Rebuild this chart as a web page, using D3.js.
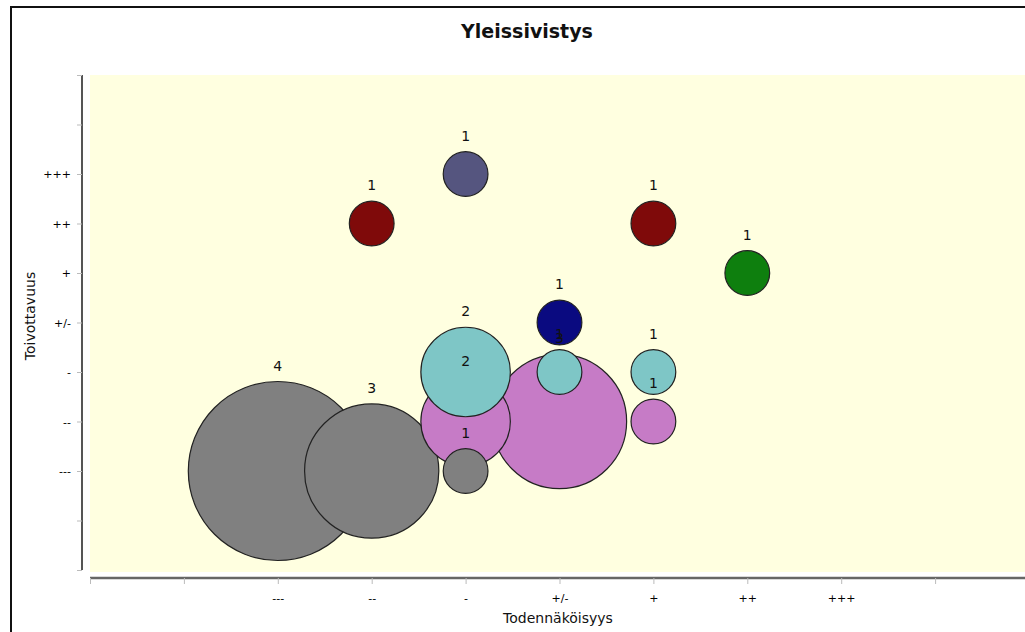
<!DOCTYPE html>
<html>
<head>
<meta charset="utf-8">
<script src="https://cdn.jsdelivr.net/npm/d3@7"></script>
<style>
  body { margin: 0; background: #fff; }
  svg { display: block; font-family: "DejaVu Sans", sans-serif; }
</style>
</head>
<body>
<div id="chart"></div>
<script>
/* bubble chart: Yleissivistys */

// category labels on both axes (index 0..10)
var xLabels = ["", "", "---", "--", "-", "+/-", "+", "++", "+++", "", ""];
var yLabels = ["", "", "---", "--", "-", "+/-", "+", "++", "+++", "", ""];

// series colours
var seriesColors = ["#808080", "#c67bc6", "#7ec6c6", "#0a0a80", "#7f0a0a", "#55557f", "#0e7f0e"];

// one entry per bubble
var bubbleX      = [2, 3, 4, 4, 5, 6, 4, 5, 6, 5, 3, 6, 4, 7];
var bubbleY      = [2, 2, 2, 3, 3, 3, 4, 4, 4, 5, 7, 7, 8, 6];
var bubbleCount  = [4, 3, 1, 2, 3, 1, 2, 1, 1, 1, 1, 1, 1, 1];
var bubbleSeries = [0, 0, 0, 1, 1, 1, 2, 2, 2, 3, 4, 4, 5, 6];

var width = 1025, height = 632;

var svg = d3.select("#chart").append("svg")
	.attr("width", width)
	.attr("height", height);

// outer frame
svg.append("rect")
	.attr("x", 11).attr("y", 7)
	.attr("width", 1030).attr("height", 640)
	.attr("fill", "none")
	.attr("stroke", "#111")
	.attr("stroke-width", 2);

var x = d3.scaleLinear().domain([0, 10]).range([90, 1029]);
var y = d3.scaleLinear().domain([0, 10]).range([570, 75]);
var r = d3.scaleLinear().domain([0, 4]).range([0, 89.5]);

// plot background
svg.append("rect")
	.attr("x", 90).attr("y", 75)
	.attr("width", width - 90).attr("height", 497)
	.attr("fill", "#ffffe0");

// title
svg.append("text")
	.attr("x", 527).attr("y", 38)
	.attr("text-anchor", "middle")
	.attr("font-size", 19)
	.attr("font-weight", "bold")
	.attr("fill", "#111")
	.text("Yleissivistys");

// y axis
var yAxis = svg.append("g")
	.attr("transform", "translate(82,0)")
	.call(d3.axisLeft(y).ticks(10).tickSize(5).tickPadding(6)
		.tickFormat(function(d) { return yLabels[d]; }));
yAxis.select(".domain").attr("stroke", "#555").attr("stroke-width", 2)
	.attr("d", "M0," + y(10) + "V" + y(0));
yAxis.selectAll(".tick line").attr("stroke", "#bbb");
yAxis.selectAll(".tick text").attr("font-size", 11).attr("fill", "#000")
	.attr("font-family", "DejaVu Sans, sans-serif");

// x axis
var xAxis = svg.append("g")
	.attr("transform", "translate(0,578)")
	.call(d3.axisBottom(x).ticks(10).tickSize(6).tickPadding(10)
		.tickFormat(function(d) { return xLabels[d]; }));
xAxis.select(".domain").attr("stroke", "#666").attr("stroke-width", 2.5)
	.attr("d", "M" + x(0) + ",0H" + width);
xAxis.selectAll(".tick line").attr("stroke", "#bbb");
xAxis.selectAll(".tick text").attr("font-size", 11).attr("fill", "#000")
	.attr("font-family", "DejaVu Sans, sans-serif");

// axis titles
svg.append("text")
	.attr("x", 558).attr("y", 623)
	.attr("text-anchor", "middle")
	.attr("font-size", 14)
	.attr("fill", "#111")
	.text("Todennäköisyys");
svg.append("text")
	.attr("transform", "translate(35,316) rotate(-90)")
	.attr("text-anchor", "middle")
	.attr("font-size", 14)
	.attr("fill", "#111")
	.text("Toivottavuus");

// bubbles, largest drawn first
var bubbles = bubbleX.map(function(d, i) {
	return { x: d, y: bubbleY[i], n: bubbleCount[i], s: bubbleSeries[i], i: i };
});
var ordered = bubbles.slice().sort(function(a, b) { return (b.n - a.n) || (a.i - b.i); });

svg.append("g").selectAll("circle")
	.data(ordered)
	.enter().append("circle")
		.attr("cx", function(d) { return x(d.x); })
		.attr("cy", function(d) { return y(d.y); })
		.attr("r", function(d) { return r(d.n); })
		.attr("fill", function(d) { return seriesColors[d.s]; })
		.attr("stroke", "#222")
		.attr("stroke-width", 1.2);

// count labels above each bubble
svg.append("g").selectAll("text")
	.data(bubbles)
	.enter().append("text")
		.attr("x", function(d) { return x(d.x); })
		.attr("y", function(d) { return y(d.y) - r(d.n) - 11; })
		.attr("text-anchor", "middle")
		.attr("font-size", 14)
		.attr("fill", "#111")
		.text(function(d) { return d.n; });
</script>
</body>
</html>
